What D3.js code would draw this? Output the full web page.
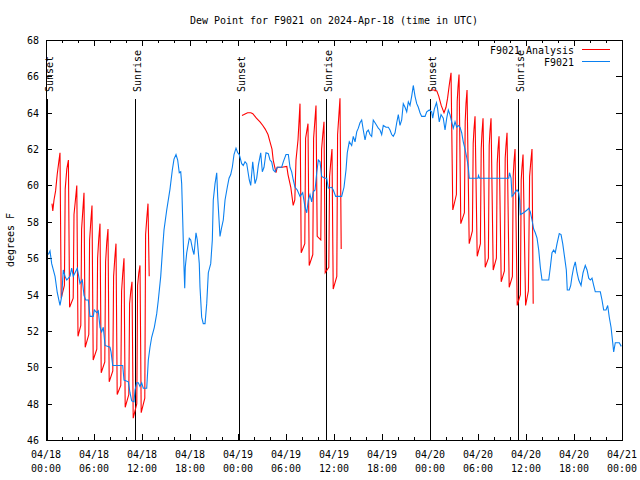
<!DOCTYPE html>
<html><head><meta charset="utf-8">
<script src="https://cdn.jsdelivr.net/npm/d3@7"></script>
<style>
body{margin:0;background:#fff}
text{font-family:"DejaVu Sans Mono","Liberation Mono",monospace;font-size:11px;fill:#000}
</style>
</head><body><svg id="c" width="640" height="480"></svg>
<script>
// ---------- data ----------
const titleText = "Dew Point for F9021 on 2024-Apr-18 (time in UTC)";
const yLabel = "degrees F";
const startUTC = Date.UTC(2024, 3, 18, 0, 0);
const xMajorHours = [0, 6, 12, 18, 24, 30, 36, 42, 48, 54, 60, 66, 72];
const xTickDates = ["04/18","04/18","04/18","04/18","04/19","04/19","04/19","04/19","04/20","04/20","04/20","04/20","04/21"];
const xTickTimes = ["00:00","06:00","12:00","18:00","00:00","06:00","12:00","18:00","00:00","06:00","12:00","18:00","00:00"];
const yTicks = [46, 48, 50, 52, 54, 56, 58, 60, 62, 64, 66, 68];
const sunEvents = [["Sunset",0.16],["Sunrise",11.16],["Sunset",24.16],["Sunrise",35.04],["Sunset",48.02],["Sunrise",59.04]];
const seriesNames = ["F9021 Analysis", "F9021"];

// F9021 observations: [hours since 04/18 00:00 UTC, dew point F]
const f9021 = [
[0.29,56.2],[0.5,56.4],[0.71,55.7],[1.13,55.0],[1.41,54.1],[1.75,53.4],[1.96,53.9],[2.16,55.35],[2.38,55.0],[2.59,54.8],
[3.0,55.0],[3.21,55.45],[3.41,55.0],[3.91,55.45],[4.25,54.6],[4.54,54.8],[4.75,53.95],[4.96,53.7],[5.29,53.7],[5.5,52.8],
[5.91,52.8],[6.04,53.15],[6.34,53.0],[6.54,53.1],[6.75,52.2],[6.96,51.95],[7.16,52.2],[7.38,51.2],[8.0,51.1],[8.13,50.85],
[8.34,50.1],[9.59,50.1],[9.75,49.3],[10.29,49.2],[10.5,48.6],[10.71,48.15],[11.0,48.1],[11.13,48.75],[11.34,49.15],[11.54,49.15],
[11.75,48.95],[11.96,49.15],[12.16,48.85],[12.59,48.85],[12.79,50.4],[13.0,51.1],[13.21,51.65],[13.54,52.2],[13.84,52.95],[14.04,53.7],
[14.34,55.0],[14.54,56.3],[14.75,57.55],[15.09,58.65],[15.5,59.8],[15.79,60.85],[16.0,61.45],[16.25,61.7],[16.46,61.4],[16.66,60.7],
[16.84,60.75],[16.96,60.1],[17.09,58.1],[17.25,55.5],[17.34,54.35],[17.41,55.5],[17.59,56.3],[17.91,57.1],[18.09,57.0],[18.34,56.45],
[18.5,56.2],[18.75,57.4],[18.91,57.0],[19.16,55.7],[19.25,54.4],[19.46,52.75],[19.66,52.4],[19.88,52.4],[20.09,53.5],[20.29,55.2],
[20.59,55.7],[20.79,57.0],[20.91,59.2],[21.13,60.1],[21.34,60.7],[21.46,59.4],[21.63,58.1],[21.75,57.2],[21.96,57.7],[22.16,58.1],
[22.38,59.2],[22.66,59.9],[22.88,60.4],[23.09,60.6],[23.29,61.0],[23.5,61.7],[23.75,62.05],[23.96,61.8],[24.16,61.7],[24.46,61.2],
[24.66,61.1],[24.88,61.3],[25.09,61.2],[25.41,60.3],[25.59,60.0],[25.84,61.3],[26.13,60.1],[26.34,60.4],[26.54,61.1],[26.84,61.8],
[27.04,60.75],[27.25,61.0],[27.5,61.8],[27.79,61.75],[28.0,61.4],[28.21,61.3],[28.41,60.85],[28.63,60.75],[28.91,61.0],[29.46,61.0],
[29.66,61.3],[30.0,61.7],[30.29,61.7],[30.5,61.0],[30.71,60.75],[30.91,60.3],[31.13,59.9],[31.41,59.75],[31.75,59.4],[32.09,59.6],
[32.38,58.8],[32.59,58.5],[32.79,59.2],[33.0,59.5],[33.21,59.1],[33.41,59.65],[33.63,59.75],[33.84,60.7],[34.04,61.4],[34.25,61.3],
[34.46,60.5],[34.88,60.4],[35.09,60.4],[35.29,59.85],[35.71,59.9],[35.91,59.75],[36.21,59.4],[36.96,59.4],[37.25,59.9],[37.5,60.85],
[37.66,61.8],[37.91,62.4],[38.21,62.2],[38.41,62.7],[38.63,62.4],[38.84,62.95],[39.04,63.15],[39.25,63.45],[39.46,63.6],[39.66,63.05],
[39.88,62.5],[40.09,62.95],[40.29,63.05],[40.5,62.8],[40.71,62.7],[40.91,63.6],[41.13,63.45],[41.34,63.3],[41.54,63.15],[41.75,63.05],
[41.96,62.8],[42.16,63.3],[42.5,63.2],[42.79,63.2],[43.0,63.05],[43.21,62.8],[43.41,62.7],[43.63,62.9],[43.84,63.45],[44.04,63.9],
[44.25,63.3],[44.46,63.6],[44.66,64.5],[44.88,64.3],[45.09,64.05],[45.29,64.6],[45.5,64.4],[45.71,64.9],[45.91,65.5],[46.13,64.9],
[46.34,64.5],[46.54,64.3],[46.75,64.0],[46.96,63.8],[47.38,63.8],[47.59,64.05],[47.91,64.15],[48.21,64.05],[48.34,63.7],[48.54,64.2],
[48.81,64.55],[48.94,64.25],[49.16,63.5],[49.38,63.9],[49.66,63.7],[49.88,63.05],[50.09,63.7],[50.29,64.15],[50.5,63.9],[50.71,63.5],
[50.91,63.15],[51.13,63.5],[51.34,63.2],[51.54,63.3],[51.75,63.2],[51.96,62.9],[52.16,62.4],[52.38,62.0],[52.59,61.55],[52.79,61.0],
[52.91,60.4],[54.0,60.4],[54.06,60.55],[54.19,60.4],[57.84,60.4],[57.94,60.7],[58.13,60.4],[58.25,59.4],[58.46,59.5],[58.66,59.65],
[58.88,59.75],[59.09,59.6],[59.21,59.2],[59.29,58.4],[59.71,58.5],[60.13,58.65],[60.34,58.75],[60.54,58.55],[60.75,58.1],[60.96,57.6],
[61.16,57.4],[61.38,57.1],[61.59,56.45],[61.79,55.5],[62.0,54.8],[62.84,54.8],[63.04,55.5],[63.25,56.3],[63.46,56.45],[63.66,56.3],
[63.88,56.8],[64.16,57.35],[64.38,57.3],[64.59,56.8],[64.84,56.0],[65.04,55.35],[65.16,54.25],[65.41,54.25],[65.59,54.5],[65.75,55.0],
[65.96,55.5],[66.16,55.8],[66.38,55.2],[66.59,54.8],[66.88,54.5],[67.13,55.2],[67.41,55.6],[67.63,55.35],[67.84,54.9],[68.04,54.8],
[68.25,54.9],[68.46,54.5],[68.66,54.15],[69.29,54.15],[69.5,53.7],[69.71,53.15],[70.0,53.15],[70.21,53.4],[70.41,52.75],[70.63,52.2],
[70.84,51.35],[70.96,50.85],[71.16,51.35],[71.66,51.35],[71.91,51.15]
];

// F9021 Analysis, three separate runs: [hours, dew point F]
const analysisRun1 = [
[0.75,59.0],[0.85,58.6],[1.0,59.2],[1.2,59.7],[1.4,60.6],[1.6,61.3],[1.75,61.8],
[1.9,53.8],[2.3,54.5],[2.4,59.8],[2.6,60.9],[2.8,61.4],
[2.95,53.3],[3.4,53.8],[3.5,58.4],[3.7,59.3],[3.85,60.0],
[4.0,51.7],[4.35,52.3],[4.45,57.6],[4.6,58.6],[4.75,59.6],
[4.9,51.1],[5.35,51.8],[5.45,57.0],[5.6,58.0],[5.75,58.9],
[5.9,50.4],[6.35,51.0],[6.45,56.0],[6.6,57.1],[6.75,57.9],
[6.9,49.7],[7.35,50.3],[7.45,55.8],[7.6,56.9],[7.75,57.6],
[7.9,49.2],[8.35,49.8],[8.45,55.0],[8.6,56.0],[8.75,56.8],
[8.9,48.5],[9.35,49.0],[9.45,54.2],[9.6,55.2],[9.75,56.0],
[9.9,47.8],[10.35,48.5],[10.45,53.5],[10.6,54.2],[10.75,54.7],
[10.9,47.2],[11.35,48.0],[11.45,54.5],[11.6,55.2],[11.75,55.6],
[11.9,47.5],[12.35,48.3],[12.45,57.3],[12.6,58.2],[12.75,59.0],
[12.9,55.0]
];
const analysisRun2 = [
[24.5,63.85],[24.75,63.9],[25.2,64.0],[25.6,64.0],[25.85,63.95],[26.3,63.7],[26.75,63.5],[27.1,63.3],[27.4,63.1],[27.75,62.8],
[28.0,62.4],[28.25,62.0],[28.4,61.4],[28.6,61.0],[28.75,60.7],[28.9,61.0],[29.5,61.0],[30.1,61.05],[30.25,60.6],[30.6,59.9],
[30.75,59.4],[30.9,58.9],[31.1,59.2],[31.25,61.4],[31.5,62.5],[31.75,64.5],
[31.9,56.3],[32.35,56.8],[32.45,62.6],[32.6,63.0],[32.75,63.4],
[32.9,55.6],[33.35,56.2],[33.45,62.6],[33.6,63.5],[33.75,64.4],
[33.9,57.2],[34.35,57.0],[34.45,62.0],[34.6,62.8],[34.75,63.5],
[34.9,55.2],[35.35,55.5],[35.45,60.5],[35.6,61.3],[35.75,62.0],
[35.9,54.3],[36.35,55.0],[36.45,62.8],[36.6,63.8],[36.75,64.8],
[36.9,56.5]
];
const analysisRun3 = [
[48.1,65.25],[48.5,65.25],[48.85,65.2],[49.1,64.9],[49.4,64.4],[49.75,64.0],[50.0,64.3],[50.2,64.8],[50.4,65.5],[50.63,66.2],
[50.85,58.65],[51.3,59.5],[51.4,64.6],[51.5,65.4],[51.63,66.1],
[51.85,57.9],[52.3,58.5],[52.4,63.5],[52.5,64.5],[52.63,65.25],
[52.9,56.8],[53.3,57.5],[53.4,62.3],[53.5,63.1],[53.63,63.8],
[53.9,56.1],[54.3,56.8],[54.4,62.0],[54.5,62.9],[54.63,63.7],
[54.9,55.5],[55.3,56.0],[55.4,62.2],[55.5,63.0],[55.63,63.7],
[55.9,55.35],[56.3,56.0],[56.4,61.2],[56.5,62.0],[56.63,62.7],
[56.9,54.7],[57.3,55.3],[57.4,61.5],[57.5,62.2],[57.63,62.9],
[57.9,54.4],[58.3,55.0],[58.4,60.5],[58.5,61.3],[58.63,62.0],
[58.9,53.4],[59.3,54.0],[59.4,60.3],[59.5,61.0],[59.63,61.7],
[59.95,53.4],[60.3,54.2],[60.45,60.5],[60.6,61.3],[60.75,62.0],
[60.9,53.5]
];

// ---------- chart ----------
const W = 640, H = 480;
const L = 46, R = 622, T = 40, B = 440;
const toDate = h => new Date(startUTC + h * 3600e3);
const svg = d3.select("#c");
const x = d3.scaleUtc().domain([toDate(0), toDate(72)]).range([L, R]);
const y = d3.scaleLinear().domain([46, 68]).range([B, T]);

function fit(sel) { // emulate 6px-wide bitmap font
  sel.each(function(){ const t = d3.select(this).text(); d3.select(this).attr("textLength", t.length*6).attr("lengthAdjust","spacingAndGlyphs"); });
}

const majorDates = xMajorHours.map(toDate);
const minorDates = d3.range(0, 73, 2).filter(h => h % 6 !== 0).map(toDate);

function styleAxis(g){ g.select(".domain").remove(); g.selectAll("line").attr("stroke","#000").attr("shape-rendering","crispEdges"); }

svg.append("g").attr("transform",`translate(0,${B})`).call(d3.axisBottom(x).tickValues(majorDates).tickSize(-6).tickFormat("")).call(styleAxis);
svg.append("g").attr("transform",`translate(0,${B})`).call(d3.axisBottom(x).tickValues(minorDates).tickSize(-3).tickFormat("")).call(styleAxis);
svg.append("g").attr("transform",`translate(0,${T})`).call(d3.axisTop(x).tickValues(majorDates).tickSize(-6).tickFormat("")).call(styleAxis);
svg.append("g").attr("transform",`translate(0,${T})`).call(d3.axisTop(x).tickValues(minorDates).tickSize(-3).tickFormat("")).call(styleAxis);
const yl = svg.append("g").attr("transform",`translate(${L},0)`).call(d3.axisLeft(y).tickValues(yTicks).tickSize(-6).tickPadding(7).tickFormat(d3.format("d"))).call(styleAxis);
yl.selectAll("text").attr("font-family",null).attr("font-size",null).attr("fill","#000").call(fit);
svg.append("g").attr("transform",`translate(${R},0)`).call(d3.axisRight(y).tickValues(yTicks).tickSize(-6).tickFormat("")).call(styleAxis);

// x tick labels (two lines)
const xl = svg.append("g").selectAll("g").data(majorDates).join("g").attr("transform", d => `translate(${x(d)},0)`);
xl.append("text").attr("y", 458).attr("text-anchor","middle").text((d,i)=>xTickDates[i]).call(fit);
xl.append("text").attr("y", 472).attr("text-anchor","middle").text((d,i)=>xTickTimes[i]).call(fit);

// frame
svg.append("rect").attr("x",L+0.5).attr("y",T+0.5).attr("width",R-L).attr("height",B-T)
  .attr("fill","none").attr("stroke","#000").attr("shape-rendering","crispEdges");

// sunrise / sunset lines
const sun = svg.append("g").selectAll("g").data(sunEvents).join("g");
sun.append("line").attr("x1",d=>Math.round(x(toDate(d[1])))+0.5).attr("x2",d=>Math.round(x(toDate(d[1])))+0.5)
  .attr("y1",99).attr("y2",B).attr("stroke","#000").attr("shape-rendering","crispEdges");
sun.append("text").attr("transform",d=>`translate(${x(toDate(d[1]))+6},92) rotate(-90)`).text(d=>d[0]).call(fit);

// series
const line = d3.line().x(d=>x(toDate(d[0]))).y(d=>y(d[1]));
const plot = svg.append("g");
[analysisRun1, analysisRun2, analysisRun3].forEach(run => {
  plot.append("path").attr("d", line(run)).attr("fill","none").attr("stroke","#ff0000").attr("stroke-width",1.1);
});
plot.append("path").attr("d", line(f9021)).attr("fill","none").attr("stroke","#0a80f0").attr("stroke-width",1.1);

// legend
const leg = svg.append("g");
leg.append("text").attr("x",574).attr("y",54).attr("text-anchor","end").text(seriesNames[0]).call(fit);
leg.append("line").attr("x1",582).attr("x2",610).attr("y1",49.5).attr("y2",49.5).attr("stroke","#ff0000");
leg.append("text").attr("x",574).attr("y",66).attr("text-anchor","end").text(seriesNames[1]).call(fit);
leg.append("line").attr("x1",582).attr("x2",610).attr("y1",61.5).attr("y2",61.5).attr("stroke","#0a80f0");

// title & y label
svg.append("text").attr("x",(L+R)/2).attr("y",24).attr("text-anchor","middle").text(titleText).call(fit);
svg.append("text").attr("transform",`translate(14,${(T+B)/2}) rotate(-90)`).attr("text-anchor","middle").text(yLabel).call(fit);
</script>
</body></html>
